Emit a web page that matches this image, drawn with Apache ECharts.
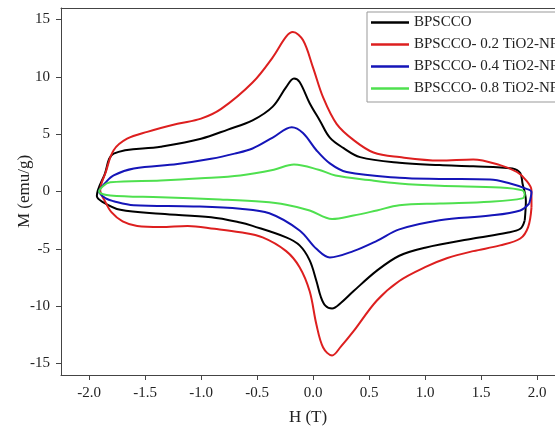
<!DOCTYPE html>
<html>
<head>
<meta charset="utf-8">
<script src="https://cdn.jsdelivr.net/npm/echarts@6/dist/echarts.min.js"></script>
<style>html,body{margin:0;padding:0;background:#fff}#c{width:555px;height:429px}</style>
</head>
<body>
<div id="c"></div>
<script>
const seriesNames = ['BPSCCO', 'BPSCCO- 0.2 TiO2-NRs', 'BPSCCO- 0.4 TiO2-NRs', 'BPSCCO- 0.8 TiO2-NRs'];
const xTicks = [-2.0, -1.5, -1.0, -0.5, 0.0, 0.5, 1.0, 1.5, 2.0];
const yTicks = [-15, -10, -5, 0, 5, 10, 15];

// [H (T), M (emu/g)] along each hysteresis loop
const loop0 = [[1.89,-2.5],[1.90,-0.8],[1.87,0.7],[1.85,1.6],[1.78,2.0],[1.43,2.2],[1.13,2.3],[0.77,2.5],[0.42,3.0],[0.27,3.8],[0.15,4.7],[0.06,6.2],[-0.03,7.7],[-0.12,9.55],[-0.17,9.85],[-0.24,9.1],[-0.36,7.4],[-0.54,6.2],[-0.76,5.4],[-1.0,4.6],[-1.36,3.9],[-1.78,3.3],[-1.86,1.5],[-1.93,-0.4],
  [-1.88,-0.9],[-1.72,-1.6],[-1.36,-1.95],[-0.91,-2.25],[-0.65,-2.7],[-0.54,-3.0],[-0.24,-4.0],[-0.12,-4.7],[-0.03,-6.0],[0.03,-7.8],[0.07,-9.2],[0.11,-9.95],[0.17,-10.2],[0.25,-9.7],[0.36,-8.7],[0.57,-6.9],[0.77,-5.6],[1.0,-4.9],[1.43,-4.1],[1.73,-3.6],[1.85,-3.25],[1.89,-2.5]];
const loop02 = [[1.95,-1.4],[1.95,0.1],[1.90,1.0],[1.82,1.7],[1.67,2.3],[1.43,2.8],[1.13,2.7],[0.77,3.0],[0.54,3.4],[0.36,4.5],[0.21,5.9],[0.09,8.2],[0.0,10.8],[-0.09,13.2],[-0.18,13.9],[-0.24,13.5],[-0.36,11.7],[-0.54,9.5],[-0.82,7.2],[-1.0,6.35],[-1.21,5.9],[-1.48,5.2],[-1.66,4.6],[-1.78,3.6],[-1.85,1.7],[-1.9,0.1],
  [-1.86,-0.8],[-1.8,-1.8],[-1.7,-2.6],[-1.57,-3.0],[-1.36,-3.1],[-1.12,-3.0],[-0.88,-3.25],[-0.65,-3.55],[-0.45,-4.0],[-0.24,-5.2],[-0.12,-6.6],[-0.03,-8.7],[0.03,-11.6],[0.09,-13.6],[0.17,-14.3],[0.25,-13.5],[0.36,-12.2],[0.57,-9.5],[0.77,-7.8],[1.0,-6.6],[1.2,-5.8],[1.43,-5.2],[1.67,-4.7],[1.85,-4.1],[1.92,-3.1],[1.95,-1.4]];
const loop04 = [[1.93,-1.05],[1.95,-0.05],[1.9,0.25],[1.76,0.7],[1.58,1.05],[1.13,1.1],[0.77,1.2],[0.3,1.7],[0.15,2.45],[0.03,3.6],[-0.09,5.1],[-0.19,5.6],[-0.36,4.7],[-0.54,3.75],[-0.7,3.3],[-0.91,2.85],[-1.21,2.4],[-1.6,2.0],[-1.78,1.4],[-1.85,0.8],[-1.91,0.0],
  [-1.85,-0.6],[-1.78,-0.85],[-1.6,-1.2],[-1.07,-1.3],[-0.65,-1.5],[-0.39,-1.9],[-0.12,-3.4],[0.03,-5.0],[0.15,-5.75],[0.36,-5.2],[0.57,-4.3],[0.77,-3.3],[1.13,-2.5],[1.58,-2.1],[1.85,-1.65],[1.93,-1.05]];
const loop08 = [[1.89,-0.25],[1.87,0.1],[1.67,0.35],[1.13,0.5],[0.77,0.7],[0.5,1.0],[0.2,1.4],[0.05,1.9],[-0.17,2.35],[-0.35,1.9],[-0.65,1.4],[-1.0,1.15],[-1.36,0.96],[-1.81,0.8],[-1.91,0.0],
  [-1.81,-0.35],[-1.36,-0.5],[-0.83,-0.7],[-0.45,-0.9],[-0.24,-1.15],[-0.03,-1.65],[0.17,-2.4],[0.36,-2.1],[0.57,-1.65],[0.77,-1.2],[1.13,-1.05],[1.58,-0.9],[1.87,-0.6],[1.89,-0.25]];

const loops = [loop0, loop02, loop04, loop08];
const colors = ['#000000', '#dd1f1f', '#1515b8', '#4fe04f'];
const font = 'Liberation Serif';
const axisColor = '#444';

const chart = echarts.init(document.getElementById('c'), null, {renderer: 'canvas'});
chart.setOption({
  animation: false,
  backgroundColor: '#fff',
  textStyle: {fontFamily: font, color: '#222'},
  grid: {left: 61, top: 8, bottom: 54, right: 0, show: false, containLabel: false, outerBoundsMode: 'none'},
  legend: {
    orient: 'vertical', left: 367, top: 12,
    padding: [3, 6, 6, 4], itemGap: 7,
    itemWidth: 38, itemHeight: 2.5, icon: 'rect',
    backgroundColor: '#fff', borderColor: '#999', borderWidth: 1,
    textStyle: {fontFamily: font, fontSize: 15, color: '#222', lineHeight: 15},
    data: seriesNames
  },
  xAxis: [{
    type: 'value', min: -2.25, max: 2.16, position: 'bottom',
    name: 'H (T)', nameLocation: 'middle', nameGap: 34, nameMoveOverlap: false,
    nameTextStyle: {fontFamily: font, fontSize: 17, color: '#222'},
    axisLine: {onZero: false, lineStyle: {color: axisColor, width: 1}},
    axisTick: {show: true, length: 5, customValues: xTicks, lineStyle: {color: axisColor}},
    axisLabel: {customValues: xTicks, margin: 11, fontFamily: font, fontSize: 15, color: '#222',
      formatter: v => v.toFixed(1)},
    splitLine: {show: false}
  }, {
    type: 'value', min: -2.25, max: 2.16, position: 'top',
    axisLine: {onZero: false, lineStyle: {color: axisColor, width: 1}},
    axisTick: {show: false}, axisLabel: {show: false}, splitLine: {show: false}
  }],
  yAxis: {
    type: 'value', min: -16, max: 16,
    name: 'M (emu/g)', nameLocation: 'middle', nameGap: 28, nameRotate: 90, nameMoveOverlap: false,
    nameTextStyle: {fontFamily: font, fontSize: 17, color: '#222'},
    axisLine: {onZero: false, lineStyle: {color: axisColor, width: 1}},
    axisTick: {show: true, length: 5, customValues: yTicks, lineStyle: {color: axisColor}},
    axisLabel: {customValues: yTicks, margin: 11, fontFamily: font, fontSize: 15, color: '#222',
      formatter: v => String(v)},
    splitLine: {show: false}
  },
  series: loops.map((d, i) => ({
    name: seriesNames[i], type: 'line', data: d, smooth: 0.35, xAxisIndex: 0,
    showSymbol: false, symbol: 'none', z: 2 + i,
    lineStyle: {color: colors[i], width: 2}, itemStyle: {color: colors[i]}
  }))
});
</script>
</body>
</html>
